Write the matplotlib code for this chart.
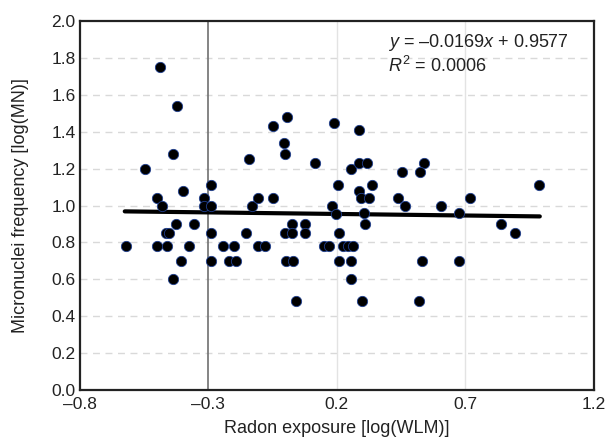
import numpy as np
import matplotlib.pyplot as plt

plt.rcParams['font.family'] = ['Liberation Sans', 'DejaVu Sans']
plt.rcParams['mathtext.fontset'] = 'custom'
plt.rcParams['mathtext.rm'] = 'Liberation Sans'
plt.rcParams['mathtext.it'] = 'Liberation Sans:italic'

# Radon exposure [log(WLM)] and micronuclei frequency [log(MN)]
radon = [-0.489, -0.420, -0.438, -0.546, -0.142, -0.288, -0.400, -0.500, -0.481,
         -0.315, -0.315, -0.290, -0.128, -0.106, 0.006, -0.048, 0.189, 0.286,
         -0.004, 0.000, 0.117, 0.255, 0.287, 0.316, 0.539, 0.455, 0.524, 0.205,
         0.336, 0.286, 0.295, 0.326, 0.437, 0.465, 0.183, -0.048, 0.987, 0.720,
         0.605, -0.425, -0.356, -0.465, -0.452, -0.288, -0.155, -0.621, -0.500,
         -0.460, -0.375, -0.242, -0.198, -0.106, -0.406, -0.290, -0.220, -0.192,
         -0.438, 0.196, 0.304, 0.027, 0.075, 0.311, 0.000, 0.027, 0.075, 0.208,
         -0.080, 0.149, 0.169, 0.223, 0.243, 0.263, 0.004, 0.030, 0.208, 0.255,
         0.532, 0.256, 0.040, 0.298, 0.520, 0.676, 0.840, 0.893, 0.676]
mn = [1.75, 1.54, 1.28, 1.20, 1.25, 1.11, 1.08, 1.04, 1.00,
      1.04, 1.00, 1.00, 1.00, 1.04, 1.48, 1.43, 1.45, 1.41,
      1.34, 1.28, 1.23, 1.20, 1.23, 1.23, 1.23, 1.18, 1.18, 1.11,
      1.11, 1.08, 1.04, 1.04, 1.04, 1.00, 1.00, 1.04, 1.11, 1.04,
      1.00, 0.90, 0.90, 0.85, 0.85, 0.85, 0.85, 0.78, 0.78,
      0.78, 0.78, 0.78, 0.78, 0.78, 0.70, 0.70, 0.70, 0.70,
      0.60, 0.955, 0.96, 0.90, 0.90, 0.90, 0.85, 0.85, 0.85, 0.85,
      0.78, 0.78, 0.78, 0.78, 0.78, 0.78, 0.70, 0.70, 0.70, 0.70,
      0.70, 0.60, 0.48, 0.48, 0.48, 0.957, 0.90, 0.85, 0.70]

# regression
slope = -0.0169
intercept = 0.9577
fit_x = [-0.625, 0.99]

xticks = [-0.8, -0.3, 0.2, 0.7, 1.2]
yticks = np.arange(0, 2.01, 0.2)

fig = plt.figure(figsize=(6.09, 4.42), dpi=100)
ax = fig.add_axes([0.131, 0.118, 0.844, 0.834])

for y in yticks[1:-1]:
    ax.axhline(y, color='#d9d9d9', lw=1, ls=(0, (5, 4)), zorder=0)
ax.axvline(-0.3, color='#707070', lw=1.2, zorder=1)
ax.axvline(0.2, color='#e3e3e3', lw=1, zorder=0)
ax.axvline(0.7, color='#e3e3e3', lw=1, zorder=0)

fit_y = [slope * x + intercept for x in fit_x]
ax.plot(fit_x, fit_y, color='black', lw=3, solid_capstyle='round', zorder=2)
ax.scatter(radon, mn, s=55, color='black', edgecolors='#1f3f8f', linewidths=0.6, zorder=3)

ax.set_xlim(-0.8, 1.2)
ax.set_ylim(0, 2.0)
ax.set_xticks(xticks)
ax.set_xticklabels([f'{t:.1f}'.replace('-', '\u2013') for t in xticks])
ax.set_yticks(yticks)
ax.set_yticklabels([f'{t:.1f}' for t in yticks])
ax.tick_params(length=0, labelsize=12.5, colors='#222222')
ax.tick_params(axis='x', pad=5)
ax.tick_params(axis='y', pad=3)

for s in ax.spines.values():
    s.set_linewidth(1.6)
    s.set_color('#222222')

ax.set_xlabel('Radon exposure [log(WLM)]', fontsize=13, color='#222222', labelpad=6)
ax.set_ylabel('Micronuclei frequency [log(MN)]', fontsize=13, color='#222222', labelpad=16)

ax.text(0.398, 1.885, '$y$ = \u20130.0169$x$ + 0.9577', fontsize=13, color='#222222', va='center')
ax.text(0.398, 1.76, '$R^2$ = 0.0006', fontsize=13, color='#222222', va='center')

fig.savefig('out.png', dpi=100)
